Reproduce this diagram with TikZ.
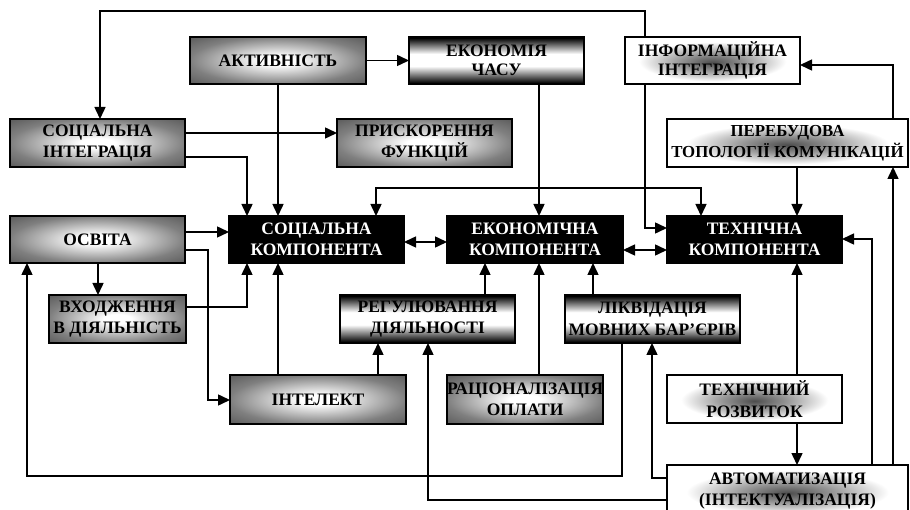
\documentclass[tikz,border=0pt]{standalone}
\usepackage{fontspec}
\setmainfont{Liberation Serif}
\usetikzlibrary{arrows.meta,calc}
\pgfdeclareradialshading{grayglow}{\pgfpoint{0bp}{0bp}}{color(0bp)=(white); color(5bp)=(white); color(25bp)=(black!50); color(36bp)=(black!65); color(50bp)=(black!65)}
\pgfdeclareradialshading{whiteglow}{\pgfpoint{0bp}{-2bp}}{color(0bp)=(black!70); color(9bp)=(black!42); color(21bp)=(white); color(50bp)=(white)}
\pgfdeclareverticalshading{bwb}{100bp}{color(0bp)=(black); color(26bp)=(black); color(44bp)=(white); color(57bp)=(white); color(74bp)=(black); color(100bp)=(black)}
\newcommand\boxfont{\fontsize{17.5}{21.5}\selectfont\bfseries}
\newcommand\tightfont{\fontsize{17.5}{19.5}\selectfont\bfseries}
\tikzset{
  box/.style={draw=black, line width=2.5pt, inner sep=0pt, outer sep=0pt, anchor=north west, align=center, font=\boxfont},
  gbox/.style={box, shading=grayglow},
  bbox/.style={box, fill=black, text=white},
  vbox/.style={box, shading=bwb},
  wbox/.style={box, shading=whiteglow},
  conn/.style={line width=1.5pt, line join=miter, -{Triangle[length=12pt,width=11pt]}},
  dconn/.style={line width=1.5pt, line join=miter, {Triangle[length=12pt,width=11pt]}-{Triangle[length=12pt,width=11pt]}},
}
\begin{document}
\begin{tikzpicture}[x=1pt,y=-1pt]
\useasboundingbox (0,0) rectangle (910,510);
\clip (0,0) rectangle (910,510);
\fill[white] (0,0) rectangle (910,510);
% boxes
\node[gbox, minimum width=176pt, minimum height=47pt] (aktyv) at (190,37) {АКТИВНІСТЬ};
\node[vbox, minimum width=175pt, minimum height=47pt, font=\tightfont] (ekch) at (409,37) {ЕКОНОМІЯ\\ЧАСУ};
\node[wbox, minimum width=175pt, minimum height=47pt, font=\tightfont] (info) at (625,37) {ІНФОРМАЦІЙНА\\ІНТЕГРАЦІЯ};
\node[gbox, minimum width=175pt, minimum height=48pt] (socint) at (10,119) {СОЦІАЛЬНА\\ІНТЕГРАЦІЯ};
\node[gbox, minimum width=175pt, minimum height=48pt] (prysk) at (337,119) {ПРИСКОРЕННЯ\\ФУНКЦІЙ};
\node[wbox, minimum width=241pt, minimum height=48pt, font=\fontsize{16.8}{21}\selectfont\bfseries] (pereb) at (667,119) {ПЕРЕБУДОВА\\ТОПОЛОГІЇ КОМУНІКАЦІЙ};
\node[gbox, minimum width=175pt, minimum height=47pt] (osvita) at (10,216) {ОСВІТА};
\node[bbox, minimum width=175pt, minimum height=47pt] (sock) at (229,216) {СОЦІАЛЬНА\\КОМПОНЕНТА};
\node[bbox, minimum width=176pt, minimum height=47pt] (ekk) at (447,216) {ЕКОНОМІЧНА\\КОМПОНЕНТА};
\node[bbox, minimum width=175pt, minimum height=47pt] (tehk) at (667,216) {ТЕХНІЧНА\\КОМПОНЕНТА};
\node[gbox, minimum width=137pt, minimum height=48pt] (vhod) at (49,295) {ВХОДЖЕННЯ\\В ДІЯЛЬНІСТЬ};
\node[vbox, minimum width=175pt, minimum height=48pt] (regul) at (340,295) {РЕГУЛЮВАННЯ\\ДІЯЛЬНОСТІ};
\node[vbox, minimum width=175pt, minimum height=48pt] (likv) at (565,295) {ЛІКВІДАЦІЯ\\МОВНИХ БАР’ЄРІВ};
\node[gbox, minimum width=176pt, minimum height=49pt] (intel) at (230,375) {ІНТЕЛЕКТ};
\node[gbox, minimum width=156pt, minimum height=49pt] (racion) at (447,375) {РАЦІОНАЛІЗАЦІЯ\\ОПЛАТИ};
\node[wbox, minimum width=175pt, minimum height=48pt] (tehr) at (667,375) {ТЕХНІЧНИЙ\\РОЗВИТОК};
\node[wbox, minimum width=241pt, minimum height=52pt] (avtom) at (667,465) {АВТОМАТИЗАЦІЯ\\(ІНТЕКТУАЛІЗАЦІЯ)};
% connectors
\draw[conn] ($(info.north west)+(20,0)$) |- (100,11) -- ($(socint.north west)+(90,0)$);
\draw[conn] (aktyv.east) -- (ekch.west);
\draw[conn] (aktyv.south) -- ($(sock.north west)+(49,0)$);
\draw[conn] ($(socint.north east)+(0,14)$) -- ($(prysk.north west)+(0,14)$);
\draw[conn] ($(socint.north east)+(0,38)$) -| ($(sock.north west)+(18,0)$);
\draw[conn] ($(ekch.south west)+(130,0)$) -- ($(ekk.north west)+(92,0)$);
\draw[conn] ($(info.south west)+(20,0)$) |- ($(tehk.north west)+(0,12)$);
\draw[dconn] ($(sock.north west)+(147,0)$) -- ++(0,-28) -| ($(tehk.north west)+(34,0)$);
\draw[conn] ($(pereb.south west)+(130,0)$) -- ($(tehk.north west)+(130,0)$);
\draw[conn] ($(pereb.north west)+(226,0)$) |- ($(info.north east)+(0,28)$);
\draw[conn] ($(avtom.north west)+(226,0)$) -- ($(pereb.south west)+(226,0)$);
\draw[conn] ($(avtom.north west)+(205,0)$) |- ($(tehk.north east)+(0,23)$);
\draw[dconn] ($(sock.north east)+(0,26)$) -- ($(ekk.north west)+(0,26)$);
\draw[dconn] ($(ekk.north east)+(0,34)$) -- ($(tehk.north west)+(0,34)$);
\draw[conn] ($(osvita.north east)+(0,16)$) -- ($(sock.north west)+(0,16)$);
\draw[conn] ($(osvita.north east)+(0,34)$) -- ++(23,0) |- ($(intel.north west)+(0,25)$);
\draw[conn] ($(osvita.south west)+(88,0)$) -- ($(vhod.north west)+(49,0)$);
\draw[conn] ($(vhod.north east)+(0,12)$) -| ($(sock.south west)+(18,0)$);
\draw[conn] ($(intel.north west)+(48,0)$) -- ($(sock.south west)+(49,0)$);
\draw[conn] ($(intel.north west)+(148,0)$) -- ($(regul.south west)+(38,0)$);
\draw[conn] ($(avtom.north west)+(0,35)$) -| ($(regul.south west)+(88,0)$);
\draw[conn] ($(likv.south west)+(57,0)$) |- (27,476) -- ($(osvita.south west)+(17,0)$);
\draw[conn] ($(avtom.north west)+(0,13)$) -| ($(likv.south west)+(87,0)$);
\draw[conn] ($(likv.north west)+(28,0)$) -- ($(ekk.south west)+(146,0)$);
\draw[conn] ($(regul.north west)+(145,0)$) -- ($(ekk.south west)+(38,0)$);
\draw[conn] ($(racion.north west)+(92,0)$) -- ($(ekk.south west)+(92,0)$);
\draw[conn] ($(tehr.north west)+(130,0)$) -- ($(tehk.south west)+(130,0)$);
\draw[conn] ($(tehr.south west)+(130,0)$) -- ($(avtom.north west)+(130,0)$);
\end{tikzpicture}
\end{document}
